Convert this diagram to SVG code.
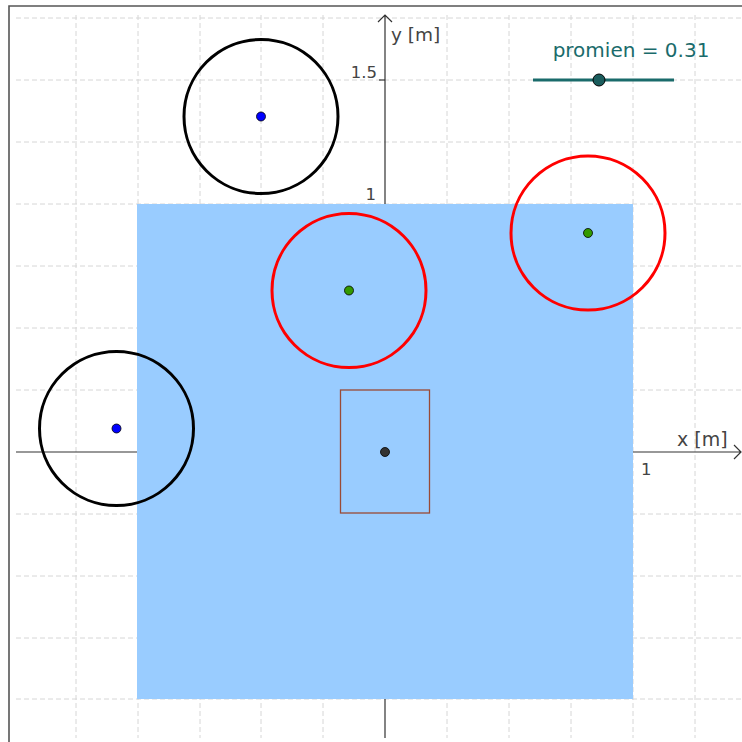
<svg xmlns="http://www.w3.org/2000/svg" width="742" height="742" viewBox="0 0 742 742">
<style>
.grid{stroke:#d6d6d6;stroke-width:1;stroke-dasharray:5,3;fill:none}
.axis{stroke:#333;stroke-width:1.2;fill:none}
.lbl{font-family:"DejaVu Sans","Noto Sans",sans-serif;fill:#444}
.blk{fill:none;stroke:#000;stroke-width:3}
.red{fill:none;stroke:#ff0000;stroke-width:3}
.pt{stroke:#000;stroke-width:0.8}
</style>
<rect width="742" height="742" fill="#fff"/>
<g id="grid">
<path class="grid" d="M76,15V738M138,15V738M200,15V738M261,15V738M323,15V738M447,15V738M509,15V738M571,15V738M633,15V738M695,15V738"/>
<path class="grid" d="M16,18H742M16,80H742M16,142H742M16,204H742M16,266H742M16,328H742M16,390H742M16,514H742M16,576H742M16,638H742M16,699H742"/>
</g>
<g id="axes">
<path class="axis" d="M16,452H741M734,445L741,452L734,459"/>
<path class="axis" d="M385,738V15M378,22L385,15L392,22"/>
<path class="axis" d="M379,80H385"/>
<text class="lbl" x="391" y="41" font-size="18.5">y [m]</text>
<text class="lbl" x="677" y="446" font-size="19">x [m]</text>
<text class="lbl" x="377" y="78" font-size="16.5" text-anchor="end">1.5</text>
<text class="lbl" x="376" y="200" font-size="16.5" text-anchor="end">1</text>
<text class="lbl" x="641" y="475" font-size="16.5">1</text>
</g>
<g id="frame">
<path d="M9,742V6H742" fill="none" stroke="#555" stroke-width="1.6"/>
</g>
<g id="square">
<rect x="137" y="204" width="496" height="495" fill="#99ccff"/>
</g>
<g id="rectangle">
<rect x="340.5" y="390" width="89" height="123" fill="none" stroke="#9a4a35" stroke-width="1.3"/>
<circle class="pt" cx="385" cy="452" r="4.5" fill="#333"/>
</g>
<g id="circle-black-1">
<circle class="blk" cx="261" cy="116.5" r="77"/>
<circle class="pt" cx="261" cy="116.5" r="4.5" fill="#0000ff"/>
</g>
<g id="circle-black-2">
<circle class="blk" cx="116.5" cy="428.5" r="77"/>
<circle class="pt" cx="116.5" cy="428.5" r="4.5" fill="#0000ff"/>
</g>
<g id="circle-red-1">
<circle class="red" cx="349" cy="290.5" r="77"/>
<circle class="pt" cx="349" cy="290.5" r="4.5" fill="#339900"/>
</g>
<g id="circle-red-2">
<circle class="red" cx="588" cy="233" r="77"/>
<circle class="pt" cx="588" cy="233" r="4.5" fill="#339900"/>
</g>
<g id="slider">
<line x1="533" y1="80" x2="674" y2="80" stroke="#1a6b6b" stroke-width="3"/>
<circle cx="599" cy="80" r="6" fill="#1a5c5c" stroke="#000" stroke-width="1"/>
<text x="631" y="57" font-size="20" text-anchor="middle" font-family="DejaVu Sans, Noto Sans, sans-serif" fill="#1a6b6b">promien = 0.31</text>
</g>
</svg>
